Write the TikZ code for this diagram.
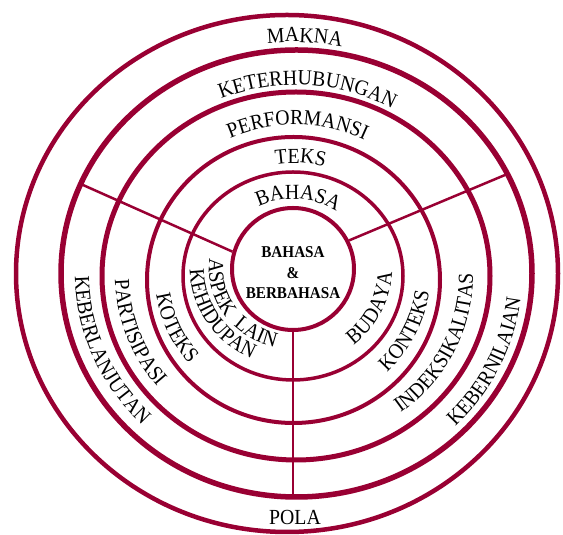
\documentclass[tikz,border=0pt]{standalone}
\usepackage{fontspec}
\setmainfont{Liberation Serif}
\newfontfamily\ringfont[FakeStretch=0.92]{Liberation Serif}
\usetikzlibrary{decorations.text}
\definecolor{ringred}{RGB}{153,0,51}
\newcommand{\labelfont}{\ringfont\fontsize{21.5}{24}\selectfont}
% #1,#2 centre; #3,#4 radii of the baseline; #5,#6 start/end angle; #7 text
\newcommand{\ringtext}[7]{%
  \path[decorate,decoration={text along path,text align=center,text={|\labelfont|#7}}]
    (#1,#2) ++(#5:#3 and #4) arc[start angle=#5,end angle=#6,x radius=#3,y radius=#4];}

\begin{document}
\begin{tikzpicture}[x=1pt,y=1pt,
  ringline/.style={draw=ringred,line width=#1},
  spoke/.style={draw=ringred,line width=2.5pt},
  core/.style={circle,draw=ringred,line width=4pt,minimum size=122pt,inner sep=0pt},
  coretxt/.style={align=center,font=\ringfont\bfseries\fontsize{16.5}{20.5}\selectfont,inner sep=0pt},
  plainlabel/.style={font=\labelfont,inner sep=0pt}]
\useasboundingbox (0,0) rectangle (563,535);

% concentric rings, outside in
\draw[ringline=4.5pt] (287,261.5) ellipse [x radius=271,y radius=258.5];
\draw[ringline=5.5pt] (296.5,261.5) ellipse [x radius=235.5,y radius=223.5];
\draw[ringline=5pt] (296,259) ellipse [x radius=194,y radius=184];
\draw[ringline=4pt] (293.5,255) ellipse [x radius=146.5,y radius=143];
\draw[ringline=3.5pt] (293,259) ellipse [x radius=110,y radius=104];

% core circle and its text
\node[core] (core) at (293,266) {};
\node[coretxt] (coretext) at (293,262) {BAHASA\\\&\\BERBAHASA};

% spokes from the core to the second ring
\coordinate (spokeL) at (83,350);
\coordinate (spokeR) at (505,360);
\coordinate (spokeB) at (293,38);
\draw[spoke] (core.164) -- (spokeL);
\draw[spoke] (core.27) -- (spokeR);
\draw[spoke] (core.south) -- (spokeB);

% labels along the top of each ring
\ringtext{292}{261.5}{246}{231.5}{117}{57}{MAKNA}
\ringtext{296}{261}{198}{189}{130}{43}{KETERHUBUNGAN}
\ringtext{295}{259}{158}{151}{134}{44}{PERFORMANSI}
\ringtext{294}{257}{120}{115}{120}{54}{TEKS}
\ringtext{293}{262}{77}{74}{146}{26}{BAHASA}

% labels down the left side
\ringtext{296}{261}{221}{210}{163}{243}{KEBERLANJUTAN}
\ringtext{295}{259}{180}{172}{165}{236}{PARTISIPASI}
\ringtext{293}{259}{138}{133}{175}{234}{KOTEKS}
\ringtext{293}{266}{84}{80}{160}{229}{ASPEK}
\ringtext{293}{266}{84}{80}{207}{275}{LAIN}
\ringtext{293}{266}{103}{98}{165}{261}{KEHIDUPAN}

% labels up the right side
\ringtext{296}{261}{226}{215}{-65}{14}{KEBERNILAIAN}
\ringtext{295}{259}{178}{170}{-75}{23}{INDEKSIKALITAS}
\ringtext{293}{259}{137}{132}{-70}{17}{KONTEKS}
\ringtext{293}{266}{99}{96}{-75}{21}{BUDAYA}

% bottom of the outer ring
\node[plainlabel,anchor=base] (pola) at (295,10) {POLA};
\end{tikzpicture}
\end{document}
